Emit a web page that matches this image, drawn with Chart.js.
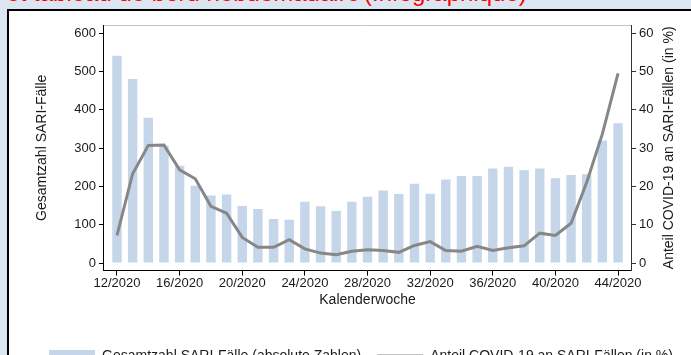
<!DOCTYPE html>
<html lang="de">
<head>
<meta charset="utf-8">
<title>SARI-Fälle und Anteil COVID-19</title>
<script src="https://cdn.jsdelivr.net/npm/chart.js@4.4.1/dist/chart.umd.min.js"></script>
<style>
    html, body { margin: 0; padding: 0; }
    body {
        width: 691px; height: 355px; overflow: hidden; position: relative;
        background: #dce6f2;
        font-family: "Liberation Sans", Arial, sans-serif;
    }
    .caption {
        position: absolute; top: -19px;
        font-size: 24px; line-height: 24px;
        color: #ff0000; white-space: nowrap;
    }
    #panel {
        position: absolute; left: 7px; top: 9px;
        width: 760px; height: 420px;
        background: #fff; border: 2px solid #000;
    }
    #wrap { position: absolute; left: 0; top: 0; }
</style>
</head>
<body>
<div class="caption" style="right:331px">Diagramme et tableau de bord hebdomadaire</div>
<div class="caption" style="left:364px">(Infographique)</div>
<div id="panel"></div>
<div id="wrap"><canvas id="sari-chart" width="722" height="380"></canvas></div>

<script>
// Kalenderwochen 12/2020 – 44/2020
const weeks = [12, 13, 14, 15, 16, 17, 18, 19, 20, 21, 22, 23, 24, 25, 26, 27,
               28, 29, 30, 31, 32, 33, 34, 35, 36, 37, 38, 39, 40, 41, 42, 43, 44];

// Gesamtzahl SARI-Fälle (absolute Zahlen)
const sariCases = [541, 480, 379, 306, 254, 202, 176, 179, 149, 141, 115, 113, 160, 148, 136, 160,
                   173, 189, 180, 207, 181, 218, 227, 227, 247, 251, 242, 247, 221, 230, 232, 320, 365];

// Anteil COVID-19 an SARI-Fällen (in %)
const covidShare = [7.2, 23.3, 30.7, 30.8, 24.3, 22.0, 14.8, 13.0, 6.7, 4.1, 4.1, 6.1, 3.7, 2.6, 2.2, 3.1,
                    3.5, 3.3, 2.8, 4.6, 5.6, 3.3, 3.1, 4.4, 3.3, 4.0, 4.5, 7.8, 7.2, 10.4, 21.1, 33.7, 49.5];

const weekTicks  = [12, 16, 20, 24, 28, 32, 36, 40, 44];
const countTicks = [0, 100, 200, 300, 400, 500, 600];
const shareTicks = [0, 10, 20, 30, 40, 50, 60];

const FONT = "'Liberation Sans', Arial, sans-serif";
const INK  = "#1a1a1a";
const RIGHT_TITLE = "Anteil COVID-19 an SARI-Fällen (in %)";
const RIGHT_GAP   = 4.7;   // labels -> right title
const RIGHT_EDGE  = 44;    // right title -> canvas edge (canvas is wider than the page)

// thin grey frame line on top of the plot region
const plotFrame = {
    id: "plotFrame",
    afterDraw(chart) {
        const { ctx, chartArea: a } = chart;
        ctx.save();
        ctx.strokeStyle = "#c4c4c4";
        ctx.lineWidth = 1;
        ctx.beginPath();
        ctx.moveTo(a.left, a.top + 0.5);
        ctx.lineTo(a.right, a.top + 0.5);
        ctx.stroke();
        ctx.restore();
    }
};

// right axis title reads bottom-to-top, like the left one
const rightTitle = {
    id: "rightTitle",
    afterDraw(chart) {
        const { ctx, chartArea: a } = chart;
        const s = chart.scales.y1;
        ctx.save();
        ctx.translate(s.right - RIGHT_EDGE - 8.4, (a.top + a.bottom) / 2);
        ctx.rotate(-Math.PI / 2);
        ctx.font = "14px " + FONT;
        ctx.fillStyle = INK;
        ctx.textAlign = "center";
        ctx.textBaseline = "middle";
        ctx.fillText(RIGHT_TITLE, 0, 0);
        ctx.restore();
    }
};

const toTicks = list => axis => { axis.ticks = list.map(v => ({ value: v })); };

new Chart(document.getElementById("sari-chart"), {
    data: {
        datasets: [
            {
                type:            "bar",
                label:           "Gesamtzahl SARI-Fälle (absolute Zahlen)",
                data:            weeks.map((w, i) => ({ x: w, y: sariCases[i] })),
                backgroundColor: "#c5d5ea",
                borderWidth:     0,
                categoryPercentage: 1,
                barPercentage:   0.6,
                pointStyle:      "rect",
                yAxisID:         "y",
                order:           2,
            },
            {
                type:            "line",
                label:           RIGHT_TITLE,
                data:            weeks.map((w, i) => ({ x: w, y: covidShare[i] })),
                borderColor:     "#878787",
                backgroundColor: "#878787",
                borderWidth:     3,
                pointRadius:     0,
                tension:         0,
                pointStyle:      "line",
                yAxisID:         "y1",
                order:           1,
            }
        ]
    },
    options: {
        responsive: false,
        animation:  false,
        layout: { padding: { left: 0, right: 0, top: 25, bottom: 7 } },
        scales: {
            x: {
                type: "linear",
                min: 11.17,
                max: 44.83,
                offset: false,
                afterBuildTicks: toTicks(weekTicks),
                ticks: {
                    color: INK, font: { family: FONT, size: 13 },
                    padding: 0, autoSkip: false, maxRotation: 0,
                    callback: v => v + "/2020",
                },
                grid:   { offset: false, drawOnChartArea: false, tickLength: 5, color: "#000" },
                border: { color: "#000" },
                title: {
                    display: true, text: "Kalenderwoche", color: INK,
                    font: { family: FONT, size: 14 },
                    padding: { top: 1, bottom: 24 },
                },
            },
            y: {
                position: "left",
                min: -19.6,
                max: 621,
                afterBuildTicks: toTicks(countTicks),
                ticks:  { color: INK, font: { family: FONT, size: 13 }, padding: 3 },
                grid:   { drawOnChartArea: false, tickLength: 5, color: "#000" },
                border: { color: "#000" },
                title: {
                    display: true, text: "Gesamtzahl SARI-Fälle", color: INK,
                    font: { family: FONT, size: 14 },
                    padding: { top: 34, bottom: 20.5 },
                },
            },
            y1: {
                position: "right",
                min: -1.96,
                max: 62.1,
                afterBuildTicks: toTicks(shareTicks),
                afterFit: s => { s.width += RIGHT_GAP + 16.8 + RIGHT_EDGE; },
                ticks:  { color: INK, font: { family: FONT, size: 13 }, padding: 3 },
                grid:   { drawOnChartArea: false, tickLength: 5, color: "#333" },
                border: { color: "#333" },
            }
        },
        plugins: {
            tooltip: { enabled: false },
            legend: {
                position: "bottom",
                labels: {
                    usePointStyle:   true,
                    pointStyleWidth: 46,
                    boxHeight:       12,
                    padding:         16,
                    color:           INK,
                    font:            { family: FONT, size: 14 },
                    sort:            (a, b) => a.datasetIndex - b.datasetIndex,
                }
            }
        }
    },
    plugins: [plotFrame, rightTitle]
});
</script>
</body>
</html>
